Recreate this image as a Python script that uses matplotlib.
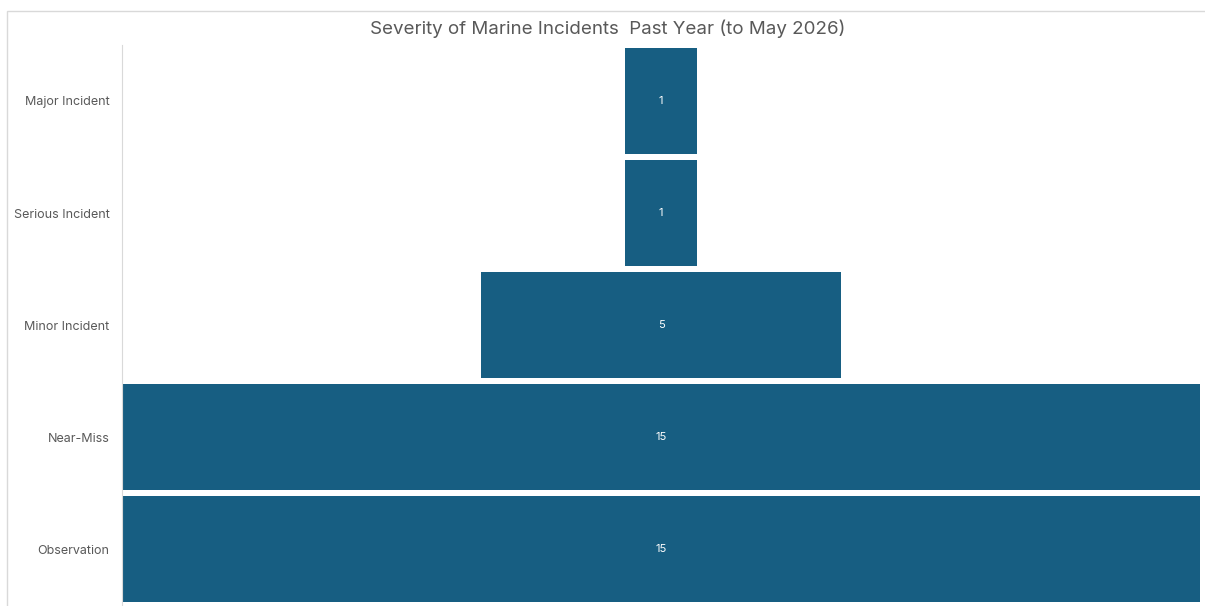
import matplotlib
matplotlib.use("Agg")
import matplotlib.pyplot as plt
from matplotlib.patches import Rectangle

plt.rcParams["font.family"] = ["Inter", "DejaVu Sans"]

categories = ["Major Incident", "Serious Incident", "Minor Incident", "Near-Miss", "Observation"]
counts = [1, 1, 5, 15, 15]

bar_color = "#175E82"
text_gray = "#595959"

fig = plt.figure(figsize=[12.05, 6.06], dpi=100)
# light outer border of the chart area
fig.patches.append(Rectangle((7 / 1205, -0.1), 1.2, 1 - 11 / 606 + 0.1,
                             transform=fig.transFigure, fill=False,
                             edgecolor="#D9D9D9", linewidth=1))

ax = fig.add_axes([122 / 1205, 1 / 606, 1078 / 1205, 560 / 606])

ypos = list(range(len(categories)))
lefts = [-c / 2 for c in counts]
bars = ax.barh(ypos, counts, left=lefts, height=0.946, color=bar_color)
for y, c in zip(ypos, counts):
    ax.text(0, y, str(c), ha="center", va="center", color="white", fontsize=8)

ax.set_xlim(-7.5, 7.5)
ax.set_ylim(len(categories) - 0.5, -0.5)
ax.set_yticks(ypos)
ax.set_yticklabels(categories, color=text_gray, fontsize=9)
ax.tick_params(axis="y", length=0, pad=9)
ax.set_xticks([])
for side in ["top", "right", "bottom"]:
    ax.spines[side].set_visible(False)
ax.spines["left"].set_color("#D9D9D9")

fig.text(608 / 1205, 1 - 29 / 606, "Severity of Marine Incidents  Past Year (to May 2026)",
         ha="center", va="center", fontsize=13.5, color=text_gray)

fig.savefig("out.png", dpi=100)
